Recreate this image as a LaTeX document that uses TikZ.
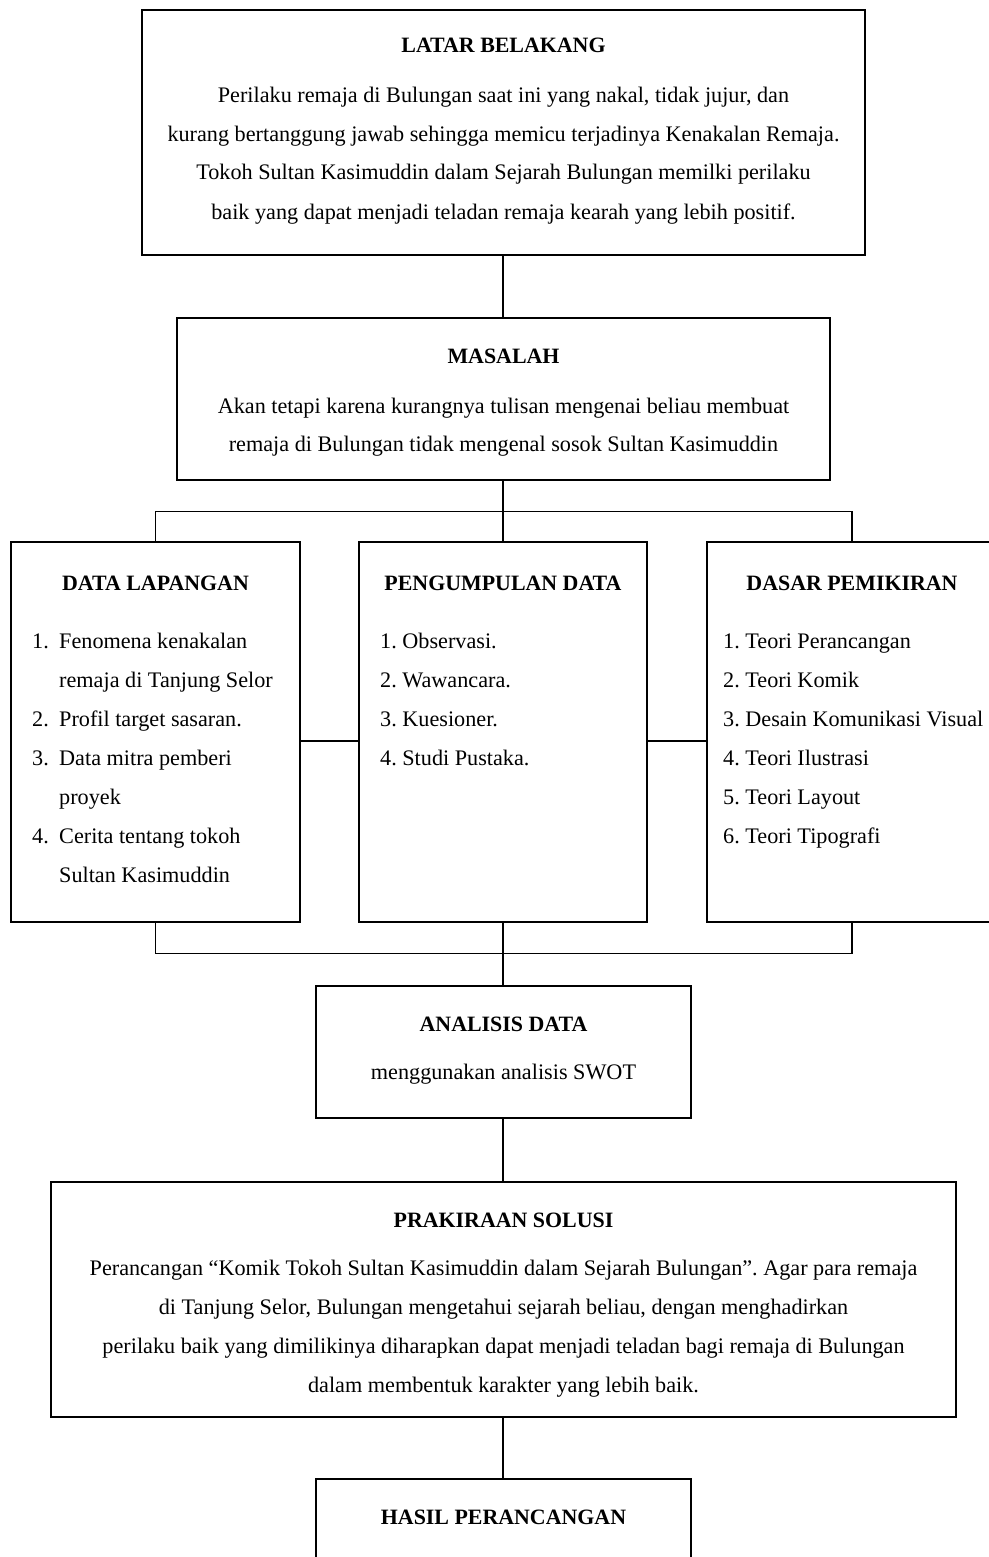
\documentclass[tikz,border=0pt]{standalone}
\usepackage{fontspec}
\setmainfont{Liberation Serif}
\usetikzlibrary{fit}
\frenchspacing
\begin{document}
\begin{tikzpicture}[x=1pt,y=-1pt,
  box/.style={draw=black, line width=1.5pt, inner sep=0pt, rectangle},
  conn/.style={draw=black, line width=1.3pt},
  ttl/.style={anchor=base, inner sep=0pt, font=\fontsize{21.9}{26}\bfseries\selectfont},
  txt/.style={anchor=base, inner sep=0pt, font=\fontsize{22.2}{26}\selectfont},
  txtl/.style={anchor=base west, inner sep=0pt, font=\fontsize{22.2}{26}\selectfont},
  num/.style={anchor=base west, inner sep=0pt, font=\fontsize{22.2}{26}\selectfont}]
\useasboundingbox (0,0) rectangle (988,1557);
\fill[white] (0,0) rectangle (988,1557);

% boxes
\node[box, fit={(142,10) (865,255)}] (lb) {};
\node[box, fit={(177,318) (830,480)}] (ms) {};
\node[box, fit={(11,542) (300,922)}] (dl) {};
\node[box, fit={(359,542) (647,922)}] (pd) {};
\node[box, fit={(707,542) (997,922)}] (dp) {};
\node[box, fit={(316,986) (691,1118)}] (an) {};
\node[box, fit={(51,1182) (956,1417)}] (ps) {};
\node[box, fit={(316,1479) (691,1620)}] (hp) {};

% latar belakang
\node[ttl] (lbt) at (503.5,53) {LATAR BELAKANG};
\node[txt] (lb1) at (503.5,103) {Perilaku remaja di Bulungan saat ini yang nakal, tidak jujur, dan};
\node[txt] (lb2) at (503.5,142) {kurang bertanggung jawab sehingga memicu terjadinya Kenakalan Remaja.};
\node[txt] (lb3) at (503.5,180) {Tokoh Sultan Kasimuddin dalam Sejarah Bulungan memilki perilaku};
\node[txt] (lb4) at (503.5,219) {baik yang dapat menjadi teladan remaja kearah yang lebih positif.};

% masalah
\node[ttl] (mst) at (503.5,363) {MASALAH};
\node[txt] (ms1) at (503.5,413) {Akan tetapi karena kurangnya tulisan mengenai beliau membuat};
\node[txt] (ms2) at (503.5,451) {remaja di Bulungan tidak mengenal sosok Sultan Kasimuddin};

% data lapangan
\node[ttl] (dlt) at (155.5,590) {DATA LAPANGAN};
\node[num] (dln1) at (32,648) {1.};
\node[txtl] (dl1) at (59,648) {Fenomena kenakalan};
\node[txtl] (dl2) at (59,687) {remaja di Tanjung Selor};
\node[num] (dln2) at (32,726) {2.};
\node[txtl] (dl3) at (59,726) {Profil target sasaran.};
\node[num] (dln3) at (32,765) {3.};
\node[txtl] (dl4) at (59,765) {Data mitra pemberi};
\node[txtl] (dl5) at (59,804) {proyek};
\node[num] (dln4) at (32,843) {4.};
\node[txtl] (dl6) at (59,843) {Cerita tentang tokoh};
\node[txtl] (dl7) at (59,882) {Sultan Kasimuddin};

% pengumpulan data
\node[ttl] (pdt) at (503,590) {PENGUMPULAN DATA};
\node[txtl] (pd1) at (380,648) {1. Observasi.};
\node[txtl] (pd2) at (380,687) {2. Wawancara.};
\node[txtl] (pd3) at (380,726) {3. Kuesioner.};
\node[txtl] (pd4) at (380,765) {4. Studi Pustaka.};

% dasar pemikiran
\node[ttl] (dpt) at (852,590) {DASAR PEMIKIRAN};
\node[txtl] (dp1) at (723,648) {1. Teori Perancangan};
\node[txtl] (dp2) at (723,687) {2. Teori Komik};
\node[txtl] (dp3) at (723,726) {3. Desain Komunikasi Visual};
\node[txtl] (dp4) at (723,765) {4. Teori Ilustrasi};
\node[txtl] (dp5) at (723,804) {5. Teori Layout};
\node[txtl] (dp6) at (723,843) {6. Teori Tipografi};

% analisis data
\node[ttl] (ant) at (503.5,1031) {ANALISIS DATA};
\node[txt] (an1) at (503.5,1079) {menggunakan analisis SWOT};

% prakiraan solusi
\node[ttl] (pst) at (503.5,1227) {PRAKIRAAN SOLUSI};
\node[txt] (ps1) at (503.5,1275) {Perancangan “Komik Tokoh Sultan Kasimuddin dalam Sejarah Bulungan”. Agar para remaja};
\node[txt] (ps2) at (503.5,1314) {di Tanjung Selor, Bulungan mengetahui sejarah beliau, dengan menghadirkan};
\node[txt] (ps3) at (503.5,1353) {perilaku baik yang dimilikinya diharapkan dapat menjadi teladan bagi remaja di Bulungan};
\node[txt] (ps4) at (503.5,1392) {dalam membentuk karakter yang lebih baik.};

% hasil
\node[ttl] (hpt) at (503.5,1524) {HASIL PERANCANGAN};

% connectors
\draw[conn] (lb.south -| 503,0) -- (ms.north -| 503,0);
\draw[conn] (ms.south -| 503,0) -- (pd.north -| 503,0);
\draw[conn] (dl.north) -- ++(0,-30) coordinate (jl) -| (dp.north);
\draw[conn] (dl.east |- 0,741) -- (pd.west |- 0,741);
\draw[conn] (pd.east |- 0,741) -- (dp.west |- 0,741);
\draw[conn] (dl.south) -- ++(0,31) coordinate (jb) -| (dp.south);
\draw[conn] (pd.south -| 503,0) -- (an.north -| 503,0);
\draw[conn] (an.south -| 503,0) -- (ps.north -| 503,0);
\draw[conn] (ps.south -| 503,0) -- (hp.north -| 503,0);
\end{tikzpicture}
\end{document}
